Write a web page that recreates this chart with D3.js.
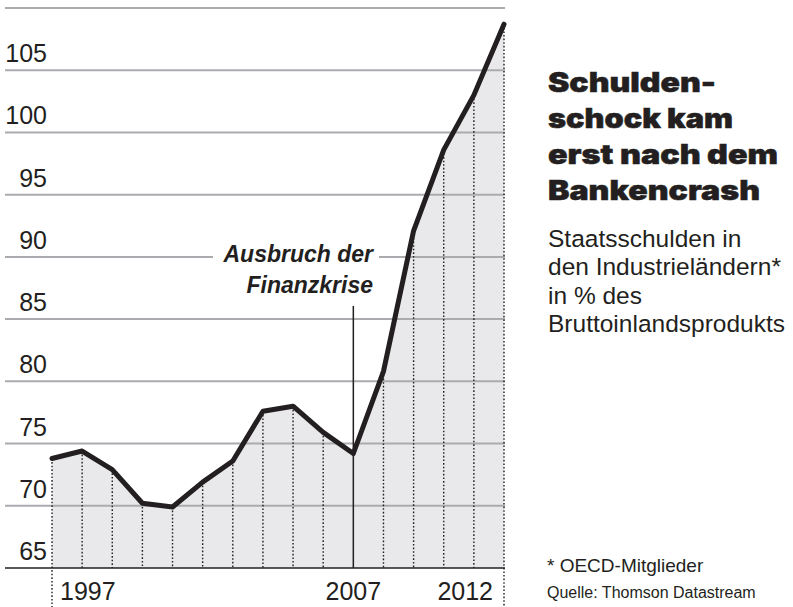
<!DOCTYPE html>
<html>
<head>
<meta charset="utf-8">
<script src="https://cdn.jsdelivr.net/npm/d3@7"></script>
<style>
  html, body { margin: 0; padding: 0; background: #fff; }
  #chart { width: 793px; height: 607px; }
  text { font-family: "Liberation Sans", Arial, sans-serif; fill: #231f20; }
</style>
</head>
<body>
<div id="chart"></div>
<script>
// Staatsschulden in den Industrieländern, % des BIP
const years = [1997, 1998, 1999, 2000, 2001, 2002, 2003, 2004, 2005, 2006, 2007, 2008, 2009, 2010, 2011, 2012];
const debt = [73.8, 74.4, 72.9, 70.2, 69.9, 71.9, 73.6, 77.6, 78.0, 75.9, 74.2, 80.8, 92.1, 98.6, 103.0, 108.7];
const yTicks = [65, 70, 75, 80, 85, 90, 95, 100, 105, 110];
const xLabels = [1997, 2007, 2012];
const titleLines = ["Schulden-", "schock kam", "erst nach dem", "Bankencrash"];
const subLines = ["Staatsschulden in", "den Industrieländern*", "in % des", "Bruttoinlandsprodukts"];
const crisisYear = 2007;

const W = 793, H = 607;
const svg = d3.select('#chart').append('svg').attr('width', W).attr('height', H);

const x = d3.scaleLinear().domain([1997, 2012]).range([52, 504]);
const y = d3.scaleLinear().domain([65, 110]).range([568, 8]);
const data = years.map((yr, i) => ({year: yr, v: debt[i]}));

// area under the line
svg.append('path')
  .datum(data)
  .attr('fill', '#e9e9eb')
  .attr('d', d3.area().x(d => x(d.year)).y0(y(65)).y1(d => y(d.v)));

// gridlines
svg.append('g')
  .selectAll('line')
  .data(yTicks.filter(t => t > 65))
  .join('line')
  .attr('x1', 5).attr('x2', 505)
  .attr('y1', d => y(d)).attr('y2', d => y(d))
  .attr('stroke', '#a9abae').attr('stroke-width', 2);

// dotted year lines
svg.append('g')
  .selectAll('line')
  .data(data.filter(d => d.year !== crisisYear))
  .join('line')
  .attr('x1', d => x(d.year)).attr('x2', d => x(d.year))
  .attr('y1', d => y(d.v))
  .attr('y2', d => (d.year === 1997 || d.year === 2012) ? H : y(65))
  .attr('stroke', '#231f20').attr('stroke-width', 1.4)
  .attr('stroke-dasharray', '1.6,2');

// baseline
svg.append('line')
  .attr('x1', 5).attr('x2', 505)
  .attr('y1', y(65)).attr('y2', y(65))
  .attr('stroke', '#231f20').attr('stroke-width', 1.5);

// y labels
svg.append('g')
  .selectAll('text')
  .data(yTicks.filter(t => t < 110))
  .join('text')
  .attr('x', 47).attr('y', d => y(d) - 8)
  .attr('text-anchor', 'end')
  .attr('font-size', 25)
  .text(d => d);

// x labels
svg.append('g')
  .selectAll('text')
  .data(xLabels)
  .join('text')
  .attr('x', d => d === 1997 ? x(d) + 8 : d === 2012 ? x(d) - 11 : x(d))
  .attr('y', 600)
  .attr('text-anchor', d => d === 1997 ? 'start' : d === 2012 ? 'end' : 'middle')
  .attr('font-size', 25)
  .text(d => d);

// annotation: outbreak of the financial crisis
svg.append('rect')
  .attr('x', 213).attr('y', y(90) - 3).attr('width', 166).attr('height', 6)
  .attr('fill', '#fff');
svg.append('line')
  .attr('x1', x(crisisYear)).attr('x2', x(crisisYear))
  .attr('y1', 306).attr('y2', y(65))
  .attr('stroke', '#231f20').attr('stroke-width', 1.5);
const ann = svg.append('text')
  .attr('text-anchor', 'end')
  .attr('font-size', 23)
  .attr('font-weight', 'bold')
  .attr('font-style', 'italic');
ann.append('tspan').attr('x', 373).attr('y', 262).text('Ausbruch der');
ann.append('tspan').attr('x', 373).attr('y', 293).text('Finanzkrise');

// the line
svg.append('path')
  .datum(data)
  .attr('fill', 'none')
  .attr('stroke', '#231f20')
  .attr('stroke-width', 5)
  .attr('stroke-linejoin', 'round')
  .attr('stroke-linecap', 'round')
  .attr('d', d3.line().x(d => x(d.year)).y(d => y(d.v)));

// title block
const titleW = [168, 185, 230, 212];
svg.append('g')
  .selectAll('text')
  .data(titleLines)
  .join('text')
  .attr('x', 548).attr('y', (d, i) => 92 + i * 36)
  .attr('font-size', 27)
  .attr('font-weight', 900)
  .style('font-family', 'Inter, "Noto Sans", sans-serif')
  .attr('stroke', '#231f20').attr('stroke-width', 0.5)
  .attr('textLength', (d, i) => titleW[i])
  .attr('lengthAdjust', 'spacingAndGlyphs')
  .text(d => d);

svg.append('g')
  .selectAll('text')
  .data(subLines)
  .join('text')
  .attr('x', 548).attr('y', (d, i) => 247 + i * 28.3)
  .attr('font-size', 24.5)
  .text(d => d);

svg.append('text')
  .attr('x', 547).attr('y', 572)
  .attr('font-size', 19)
  .text('* OECD-Mitglieder');
svg.append('text')
  .attr('x', 547).attr('y', 598)
  .attr('font-size', 16)
  .text('Quelle: Thomson Datastream');
</script>
</body>
</html>
